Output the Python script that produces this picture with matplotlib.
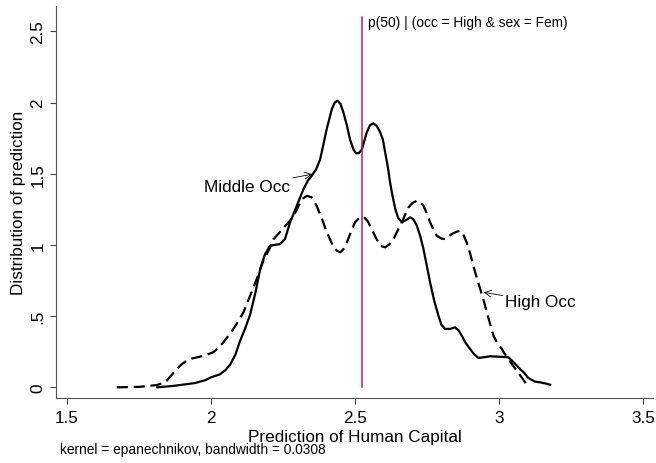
import matplotlib
matplotlib.use("Agg")
import matplotlib.pyplot as plt

plt.rcParams['font.family'] = ['Liberation Sans', 'DejaVu Sans']

# Middle Occ density (solid)
mid_x = [1.813, 1.87, 1.945, 1.98, 2.00, 2.03, 2.05, 2.067, 2.085, 2.10, 2.12, 2.136,
         2.155, 2.171, 2.188, 2.205, 2.22, 2.24, 2.257, 2.275, 2.298, 2.321, 2.336,
         2.350, 2.365, 2.379, 2.39, 2.402, 2.420, 2.43, 2.439, 2.45, 2.460, 2.472,
         2.483, 2.495, 2.504, 2.514, 2.524, 2.541, 2.552, 2.564, 2.576, 2.588, 2.597,
         2.605, 2.614, 2.622, 2.630, 2.640, 2.650, 2.663, 2.678, 2.692, 2.703, 2.715,
         2.727, 2.738, 2.75, 2.761, 2.775, 2.790, 2.80, 2.813, 2.83, 2.848, 2.860,
         2.871, 2.885, 2.900, 2.915, 2.929, 2.95, 2.970, 3.00, 3.033, 3.051, 3.07,
         3.086, 3.10, 3.109, 3.125, 3.143, 3.16, 3.178]
mid_y = [0.0, 0.01, 0.03, 0.05, 0.07, 0.09, 0.12, 0.16, 0.23, 0.32, 0.42, 0.51,
         0.67, 0.83, 0.936, 0.994, 1.0, 1.006, 1.041, 1.159, 1.275, 1.39, 1.45,
         1.486, 1.53, 1.60, 1.70, 1.814, 1.955, 2.0, 2.013, 1.99, 1.93, 1.84,
         1.74, 1.67, 1.643, 1.645, 1.67, 1.79, 1.84, 1.854, 1.835, 1.79, 1.74,
         1.65, 1.55, 1.44, 1.35, 1.253, 1.19, 1.159, 1.175, 1.194, 1.18, 1.135,
         1.06, 0.971, 0.85, 0.737, 0.61, 0.503, 0.44, 0.41, 0.41, 0.421, 0.40,
         0.362, 0.31, 0.269, 0.23, 0.206, 0.212, 0.218, 0.215, 0.211, 0.176, 0.135,
         0.105, 0.07, 0.058, 0.04, 0.035, 0.028, 0.018]

# High Occ density (dashed)
high_x = [1.673, 1.75, 1.812, 1.83, 1.846, 1.865, 1.881, 1.90, 1.916, 1.935, 1.951,
          1.98, 2.008, 2.025, 2.043, 2.06, 2.078, 2.095, 2.113, 2.136, 2.159, 2.182,
          2.205, 2.217, 2.235, 2.252, 2.27, 2.286, 2.30, 2.31, 2.322, 2.334, 2.350,
          2.367, 2.378, 2.39, 2.40, 2.413, 2.425, 2.437, 2.449, 2.46, 2.472, 2.486,
          2.50, 2.515, 2.53, 2.545, 2.558, 2.573, 2.588, 2.605, 2.62, 2.634, 2.648,
          2.663, 2.675, 2.686, 2.70, 2.715, 2.727, 2.738, 2.75, 2.761, 2.772, 2.784,
          2.80, 2.813, 2.825, 2.836, 2.85, 2.865, 2.877, 2.888, 2.90, 2.911, 2.923,
          2.935, 2.947, 2.958, 2.97, 2.981, 2.995, 3.010, 3.020, 3.033, 3.048, 3.062,
          3.077, 3.091, 3.098]
high_y = [0.0, 0.003, 0.016, 0.028, 0.046, 0.09, 0.128, 0.165, 0.187, 0.203, 0.21,
          0.225, 0.246, 0.275, 0.316, 0.36, 0.41, 0.465, 0.527, 0.643, 0.76, 0.89,
          0.98, 1.04, 1.08, 1.12, 1.16, 1.20, 1.255, 1.30, 1.33, 1.345, 1.334,
          1.275, 1.22, 1.159, 1.10, 1.041, 0.99, 0.96, 0.948, 0.97, 1.018, 1.09,
          1.159, 1.19, 1.198, 1.165, 1.112, 1.05, 0.994, 0.983, 1.005, 1.041, 1.10,
          1.159, 1.215, 1.264, 1.295, 1.31, 1.30, 1.275, 1.22, 1.159, 1.11, 1.065,
          1.045, 1.041, 1.058, 1.077, 1.09, 1.10, 1.07, 1.018, 0.94, 0.854, 0.77,
          0.69, 0.61, 0.527, 0.44, 0.362, 0.31, 0.269, 0.235, 0.199, 0.155, 0.117,
          0.075, 0.035, 0.0]

median_x = 2.526
median_top = 2.6
median_label = "p(50) | (occ = High & sex = Fem)"

x_ticks = [1.5, 2, 2.5, 3, 3.5]
x_tick_labels = ["1.5", "2", "2.5", "3", "3.5"]
y_ticks = [0, 0.5, 1, 1.5, 2, 2.5]
y_tick_labels = ["0", ".5", "1", "1.5", "2", "2.5"]

fig = plt.figure(figsize=(6.56, 4.64), dpi=100)
ax = fig.add_axes([56/656, 1-399/464, (653-56)/656, (399-7)/464])

ax.plot(mid_x, mid_y, color='black', lw=1.6, solid_joinstyle='round')
ax.plot(high_x, high_y, color='black', lw=1.6, dashes=(5, 2.6))
ax.plot([median_x, median_x], [0, median_top], color='#C9184A', lw=1.1)
ax.text(median_x + 0.018, median_top + 0.015, median_label, fontsize=9.9,
        va='top', ha='left')

ax.annotate("Middle Occ", xy=(2.352, 1.497), xytext=(2.275, 1.41),
            ha='right', va='center', fontsize=12.3,
            arrowprops=dict(arrowstyle='->', lw=0.6, color='black', shrinkA=0, shrinkB=0))
ax.annotate("High Occ", xy=(2.947, 0.667), xytext=(3.022, 0.60),
            ha='left', va='center', fontsize=12.3,
            arrowprops=dict(arrowstyle='->', lw=0.6, color='black', shrinkA=0, shrinkB=0))

ax.set_xlim(1.462, 3.535)
ax.set_ylim(-0.075, 2.678)
ax.set_xticks(x_ticks)
ax.set_xticklabels(x_tick_labels)
ax.set_yticks(y_ticks)
ax.set_yticklabels(y_tick_labels, rotation=90, va='center')
ax.tick_params(axis='both', direction='out', length=4.5, width=0.8, color='#444444',
               labelsize=12.3, pad=3)
ax.tick_params(axis='x', pad=4.5)
for s in ['top', 'right']:
    ax.spines[s].set_visible(False)
for s in ['left', 'bottom']:
    ax.spines[s].set_color('#555555')
    ax.spines[s].set_linewidth(0.8)

ax.set_xlabel("Prediction of Human Capital", fontsize=12.3, labelpad=2.5)
ax.set_ylabel("Distribution of prediction", fontsize=12.3, labelpad=3)
fig.text(60/656, 1-450/464, "kernel = epanechnikov, bandwidth = 0.0308", fontsize=9.9,
         ha='left', va='center')

fig.savefig("out.png", dpi=100)
